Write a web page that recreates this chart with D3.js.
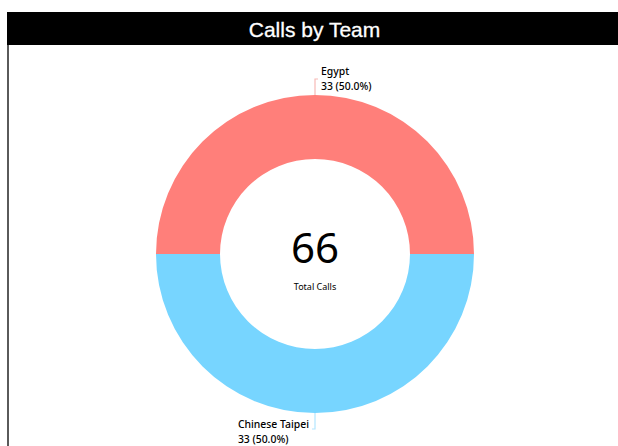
<!DOCTYPE html>
<html>
<head>
<meta charset="utf-8">
<script src="https://cdn.jsdelivr.net/npm/d3@7"></script>
<style>
  html, body { margin: 0; padding: 0; background: #fff; }
  svg { display: block; }
</style>
</head>
<body>
<div id="chart"></div>
<script>
// chart data
const teams = ['Egypt', 'Chinese Taipei'];
const calls = [33, 33];
const teamColors = ['#ff7f7a', '#77d5ff'];
const lineColors = ['#f7b9b6', '#b3e6ff'];
const title = 'Calls by Team';
const centerLabel = 'Total Calls';

const width = 618, height = 446;
const cx = 315, cy = 254;
const outerR = 159, innerR = 95;

const svg = d3.select('#chart')
    .append('svg')
    .attr('width', width)
    .attr('height', height);

// left border + title bar
svg.append('rect')
    .attr('x', 7).attr('y', 45)
    .attr('width', 2).attr('height', height - 45)
    .attr('fill', '#5a5a5a');

svg.append('rect')
    .attr('x', 7).attr('y', 12)
    .attr('width', width - 7).attr('height', 33)
    .attr('fill', '#000');

svg.append('text')
    .attr('x', 314.5).attr('y', 36.5)
    .attr('text-anchor', 'middle')
    .attr('fill', '#fff')
    .style('font-family', '"Liberation Sans", Arial, sans-serif')
    .style('font-size', '21px')
    .style('stroke', '#fff')
    .style('stroke-width', '0.3px')
    .text(title);

const total = d3.sum(calls);
const data = teams.map((t, i) => ({ team: t, value: calls[i], i }));

const pie = d3.pie()
    .value(d => d.value)
    .sort(null)
    .startAngle(-Math.PI / 2)
    .endAngle(Math.PI * 1.5);

const arc = d3.arc().innerRadius(innerR).outerRadius(outerR);

const g = svg.append('g').attr('transform', `translate(${cx},${cy})`);

const arcs = pie(data);

g.selectAll('path.slice')
    .data(arcs)
    .join('path')
    .attr('class', 'slice')
    .attr('d', arc)
    .attr('fill', d => teamColors[d.data.i]);

// leader lines + labels
const labelFont = '"Noto Sans", "DejaVu Sans", sans-serif';
arcs.forEach(d => {
    const mid = (d.startAngle + d.endAngle) / 2;
    const sx = Math.sin(mid), sy = -Math.cos(mid);
    const p0 = [sx * outerR, sy * outerR];
    const p1 = [sx * (outerR + 16), sy * (outerR + 16)];
    const top = sy < 0;
    const p2 = [p1[0] + (top ? 3 : -3), p1[1]];
    g.append('polyline')
        .attr('points', [p0, p1, p2].map(p => p.join(',')).join(' '))
        .attr('fill', 'none')
        .attr('stroke', lineColors[d.data.i])
        .attr('stroke-width', 1.2);

    const pct = (d.data.value / total * 100).toFixed(1);
    const t = g.append('text')
        .style('font-family', labelFont)
        .style('font-size', '10.4px')
        .style('font-weight', 500)
        .attr('fill', '#000');
    const l1 = t.append('tspan').text(d.data.team);
    const l2 = t.append('tspan').text(`${d.data.value} (${pct}%)`);
    if (top) {
        const x = p1[0] + 6;
        l1.attr('x', x).attr('y', p1[1] - 4);
        l2.attr('x', x).attr('y', p1[1] + 11);
    } else {
        const w = Math.max(l1.node().getComputedTextLength(), l2.node().getComputedTextLength());
        const x = p1[0] - 6 - w;
        l1.attr('x', x).attr('y', p1[1] - 1);
        l2.attr('x', x).attr('y', p1[1] + 14);
    }
});

// center total
g.append('text')
    .attr('x', 0).attr('y', 9)
    .attr('text-anchor', 'middle')
    .style('font-family', labelFont)
    .style('font-size', '42px')
    .attr('fill', '#000')
    .text(total);

g.append('text')
    .attr('x', 0).attr('y', 36)
    .attr('text-anchor', 'middle')
    .style('font-family', labelFont)
    .style('font-size', '9px')
    .attr('fill', '#000')
    .text(centerLabel);
</script>
</body>
</html>
